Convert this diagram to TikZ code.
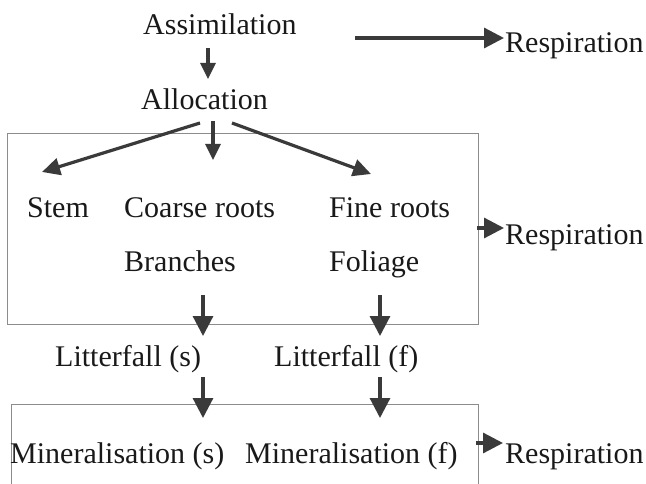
\documentclass[tikz,border=0pt]{standalone}
\usepackage{fontspec}
\setmainfont{Liberation Serif}
\usetikzlibrary{arrows.meta}
\definecolor{arr}{HTML}{3A3A3A}
\definecolor{boxc}{HTML}{8C8C8C}
\begin{document}
\begin{tikzpicture}[x=1pt,y=-1pt,
  lbl/.style={anchor=base west, inner sep=0pt, font=\fontsize{30}{36}\selectfont, text=black!90},
  flow/.style={draw=arr, line width=3.2pt},
  bighead/.style={-{Triangle[length=20pt,width=20pt]}},
  smallhead/.style={-{Triangle[length=16pt,width=15pt]}},
  diaghead/.style={-{Triangle[length=18pt,width=17pt]}},
  frame/.style={draw=boxc, line width=0.9pt}]
\useasboundingbox (0,0) rectangle (646,484);

% boxes
\draw[frame] (7,133) rectangle (478,324);
\draw[frame] (11,484) -- (11,404) -- (478,404) -- (478,484);

% texts
\node[lbl] (assim) at (143,35) {Assimilation};
\node[lbl] (resp1) at (505,53) {Respiration};
\node[lbl] (alloc) at (141,110) {Allocation};
\node[lbl] (stem) at (27,218) {Stem};
\node[lbl] (coarse) at (124,218) {Coarse roots};
\node[lbl] (fine) at (329,218) {Fine roots};
\node[lbl] (resp2) at (505,244) {Respiration};
\node[lbl] (branch) at (124,271) {Branches};
\node[lbl] (foliage) at (329,271) {Foliage};
\node[lbl] (litS) at (55,366) {Litterfall (s)};
\node[lbl] (litF) at (274,366) {Litterfall (f)};
\node[lbl] (minS) at (10,463) {Mineralisation (s)};
\node[lbl] (minF) at (245,463) {Mineralisation (f)};
\node[lbl] (resp3) at (505,463) {Respiration};

% connector end points
\coordinate (aS) at (208,48);   \coordinate (aE) at (208,79);
\coordinate (r1S) at (355,38);  \coordinate (r1E) at (504,38);
\coordinate (lS) at (200,123);  \coordinate (lE) at (42,172);
\coordinate (mS) at (213,121);  \coordinate (mE) at (213,160);
\coordinate (rS) at (232,123);  \coordinate (rE) at (371,174);
\coordinate (r2S) at (477,228); \coordinate (r2E) at (504,228);
\coordinate (d1S) at (203,295); \coordinate (d1E) at (203,336);
\coordinate (d2S) at (380,295); \coordinate (d2E) at (380,336);
\coordinate (d3S) at (203,377); \coordinate (d3E) at (203,418);
\coordinate (d4S) at (380,377); \coordinate (d4E) at (380,418);
\coordinate (r3S) at (476,443); \coordinate (r3E) at (503,443);

% connectors
\draw[flow,smallhead] (aS) -- (aE);
\draw[flow,bighead] (r1S) -- (r1E);
\draw[flow,diaghead] (lS) -- (lE);
\draw[flow,smallhead] (mS) -- (mE);
\draw[flow,diaghead] (rS) -- (rE);
\draw[flow,bighead] (r2S) -- (r2E);
\draw[flow,bighead] (d1S) -- (d1E);
\draw[flow,bighead] (d2S) -- (d2E);
\draw[flow,bighead] (d3S) -- (d3E);
\draw[flow,bighead] (d4S) -- (d4E);
\draw[flow,bighead] (r3S) -- (r3E);
\end{tikzpicture}
\end{document}
